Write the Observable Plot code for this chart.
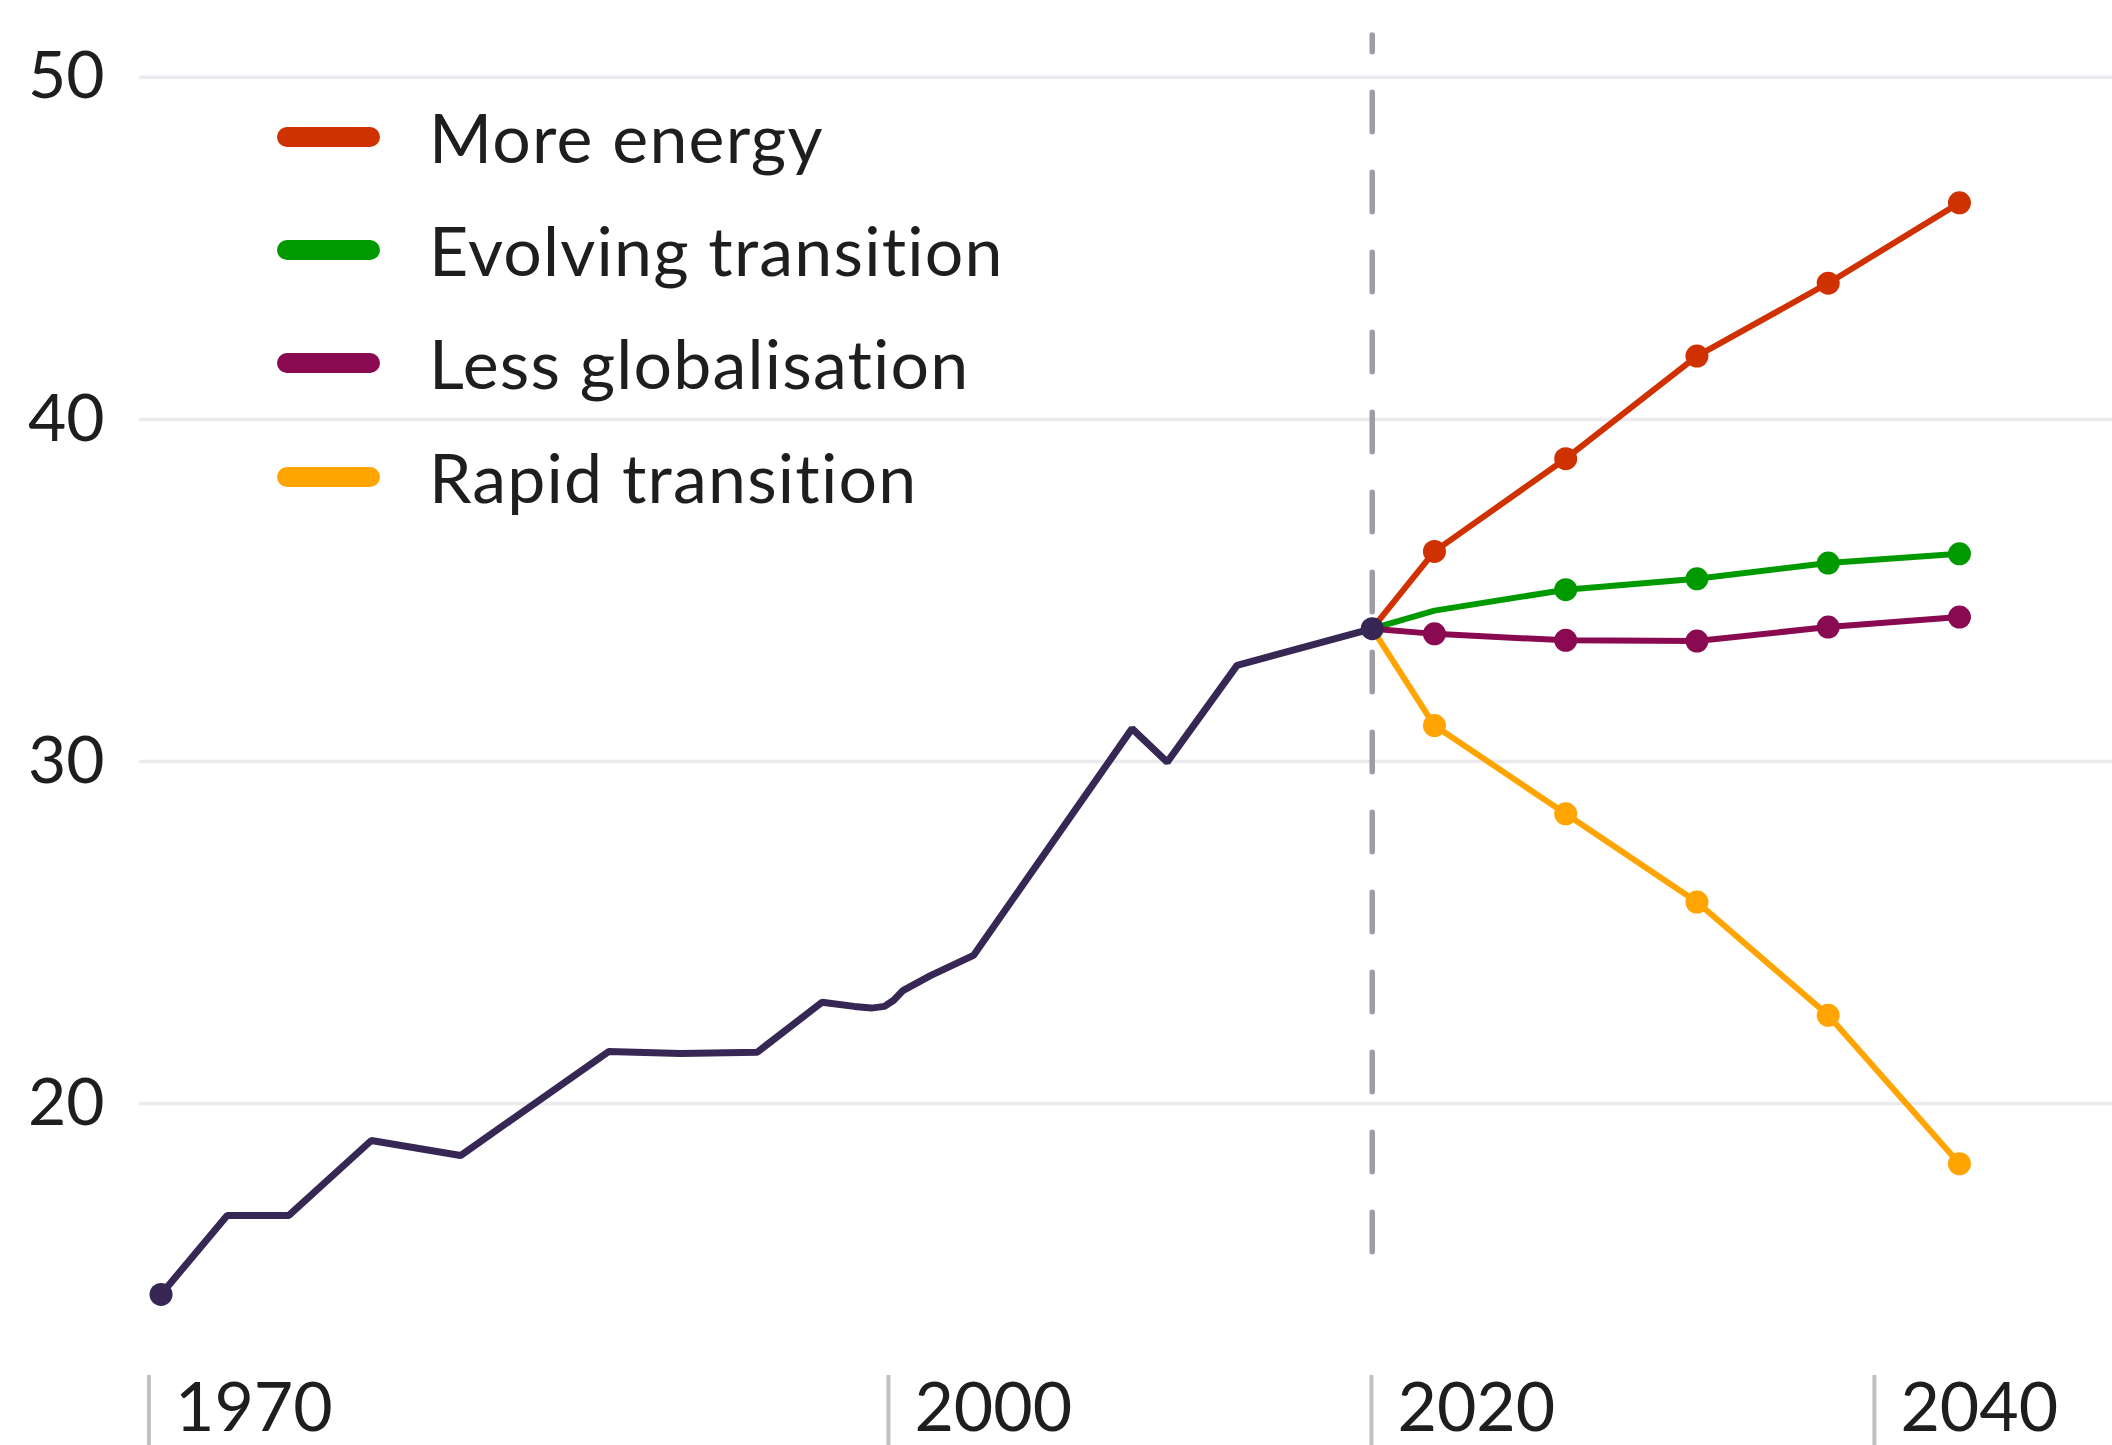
<!DOCTYPE html>
<html>
<head>
<meta charset="utf-8">
<script src="https://cdn.jsdelivr.net/npm/d3@7"></script>
<script src="https://cdn.jsdelivr.net/npm/@observablehq/plot@0.6"></script>
<style>
  html, body { margin: 0; padding: 0; background: #fff; }
  #chart { position: relative; width: 2112px; height: 1445px; font-family: Lato, "Open Sans", sans-serif; }
  #chart svg { display: block; font-variant-ligatures: none; }
  .row { position: absolute; left: 277px; height: 80px; display: flex; align-items: center; transform: translateY(-40px); }
  .sw { width: 103px; height: 20px; border-radius: 10px; flex: none; }
  .lab { margin-left: 49px; font-size: 68px; letter-spacing: 1.2px; color: #1e1e1e; white-space: nowrap; line-height: 1; font-variant-ligatures: none; font-feature-settings: "liga" 0, "clig" 0; }
</style>
</head>
<body>
<div id="chart"></div>
<script>
// ---- data ----
const historyYears  = [1971.49, 1974.01, 1976.36, 1979.50, 1982.90, 1988.54, 1991.28, 1994.20, 1996.67, 1997.90, 1998.55, 1999.05, 1999.40, 1999.75, 2000.80, 2002.44, 2008.48, 2009.82, 2012.48, 2017.63];
const historyValues = [14.42, 16.73, 16.73, 18.92, 18.48, 21.52, 21.46, 21.50, 22.96, 22.84, 22.79, 22.84, 23.02, 23.30, 23.74, 24.33, 30.96, 29.98, 32.81, 33.88];

const baseYear = 2017.63;
const baseValue = 33.88;
const projectionYears = [2020, 2025, 2030, 2035, 2040];

const scenarioNames  = ["More energy", "Evolving transition", "Less globalisation", "Rapid transition"];
const scenarioColors = ["#cf3100", "#009a00", "#8a0a52", "#ffa400"];
const moreEnergy         = [36.14, 38.85, 41.85, 43.98, 46.33];
const evolvingTransition = [34.41, 35.02, 35.34, 35.80, 36.07];
const lessGlobalisation  = [33.73, 33.54, 33.52, 33.93, 34.22];
const rapidTransition    = [31.05, 28.47, 25.89, 22.58, 18.24];
const evolvingMarked     = [false, true, true, true, true];

const yTicks = [20, 30, 40, 50];
const xTickPositions = [1971.03, 1999.2, 2017.6, 2036.76];
const xTickLabels = ["1970", "2000", "2020", "2040"];
const dividerRange = [15.65, 51.22];

// ---- build tables ----
const history = historyYears.map((year, i) => ({year, value: historyValues[i]}));
const seriesValues = [moreEnergy, evolvingTransition, lessGlobalisation, rapidTransition];
const projRows = [];
const dotRows = [];
seriesValues.forEach((vals, s) => {
  projRows.push({year: baseYear, value: baseValue, scenario: scenarioNames[s]});
  vals.forEach((v, i) => {
    const r = {year: projectionYears[i], value: v, scenario: scenarioNames[s]};
    projRows.push(r);
    if (s !== 1 || evolvingMarked[i]) dotRows.push(r);
  });
});
const endpoints = [history[0], history[history.length - 1]];
const tickLabel = d => xTickLabels[xTickPositions.indexOf(d)];

const chart = Plot.plot({
  width: 2112,
  height: 1445,
  marginTop: 0,
  marginRight: 0,
  marginBottom: 70,
  marginLeft: 139,
  x: {domain: [1970.67, 2045.83], label: null},
  y: {domain: [12.05, 52.245], label: null},
  color: {domain: scenarioNames, range: scenarioColors},
  style: {fontFamily: "Lato, 'Open Sans', sans-serif", color: "#1e1e1e", background: "#fff", overflow: "visible"},
  marks: [
    Plot.gridY(yTicks, {stroke: "#ebebef", strokeOpacity: 1, strokeWidth: 3.5}),
    Plot.axisY(yTicks, {tickSize: 0, tickPadding: 35, fontSize: 66, fill: "#1e1e1e", label: null}),
    // tick bars
    Plot.axisX(xTickPositions, {tickFormat: () => "", tickSize: 70, stroke: "#c0c0c0", strokeWidth: 4, label: null}),
    // tick labels, to the right of the bars
    Plot.axisX(xTickPositions, {tickFormat: tickLabel, tickSize: 0, tickPadding: 7, textAnchor: "start", dx: 26, fontSize: 68, fill: "#1e1e1e", label: null}),
    Plot.ruleX([baseYear], {y1: dividerRange[0], y2: dividerRange[1], stroke: "#a09ca6", strokeWidth: 5.5, strokeDasharray: "39.5,40.5", strokeLinecap: "round"}),
    Plot.line(projRows, {x: "year", y: "value", z: "scenario", stroke: "scenario", strokeWidth: 6, strokeLinejoin: "miter"}),
    Plot.dot(dotRows, {x: "year", y: "value", fill: "scenario", r: 11.5}),
    Plot.line(history, {x: "year", y: "value", stroke: "#372754", strokeWidth: 7, strokeLinejoin: "miter"}),
    Plot.dot(endpoints, {x: "year", y: "value", fill: "#372754", r: 11.5})
  ]
});

const root = document.getElementById("chart");
root.appendChild(chart);

// legend (overlay inside the plot area)
const legendCenters = [137, 250, 363, 477];
scenarioNames.forEach((name, i) => {
  const row = document.createElement("div");
  row.className = "row";
  row.style.top = legendCenters[i] + "px";
  const sw = document.createElement("div");
  sw.className = "sw";
  sw.style.background = scenarioColors[i];
  const lab = document.createElement("span");
  lab.className = "lab";
  lab.textContent = name;
  row.appendChild(sw);
  row.appendChild(lab);
  root.appendChild(row);
});
</script>
</body>
</html>
